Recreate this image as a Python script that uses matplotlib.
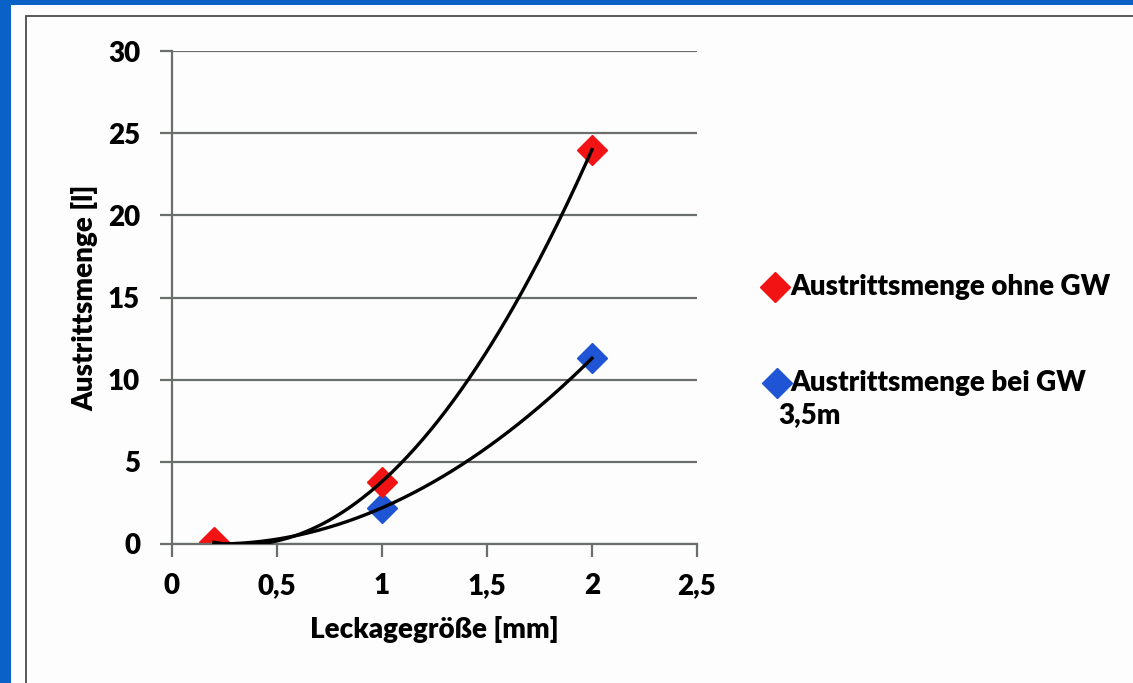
import numpy as np
import matplotlib.pyplot as plt
from matplotlib.lines import Line2D
from matplotlib.patches import Rectangle

plt.rcParams['font.family'] = ['Lato', 'DejaVu Sans']

# data
leck = [0.2, 1, 2]
ohne_gw = [0.1, 3.8, 24.0]
bei_gw = [0.0, 2.2, 11.3]
x_ticks = [0, 0.5, 1, 1.5, 2, 2.5]
x_labels = ['0', '0,5', '1', '1,5', '2', '2,5']
y_ticks = [0, 5, 10, 15, 20, 25, 30]
y_labels = ['0', '5', '10', '15', '20', '25', '30']

red = '#f21414'
blue = '#1f55d4'
grid_col = '#6b6f6b'

fig = plt.figure(figsize=(11.33, 6.83), dpi=100)
fig.patch.set_facecolor('#0a62c6')
fig.add_artist(Rectangle((11 / 1133, 0), 1, 1 - 5 / 683, transform=fig.transFigure,
                         facecolor='#fdfdfd', edgecolor='none', zorder=0))
fig.add_artist(Rectangle((26 / 1133, -0.05), 1, 1.05 - 16 / 683, transform=fig.transFigure,
                         facecolor='none', edgecolor='#4a4a4a', lw=1.3, zorder=1))

ax = fig.add_axes([172 / 1133, 139 / 683, 525 / 1133, 493 / 683])
ax.set_facecolor('none')

ax.plot(leck, bei_gw, 'D', color=blue, markersize=15, zorder=2)
ax.plot(leck, ohne_gw, 'D', color=red, markersize=15, zorder=2.5)

# trendlines (2nd order polynomial, like the spreadsheet trendline), on top of the markers
xs = np.linspace(leck[0], leck[-1], 200)
for ys in (ohne_gw, bei_gw):
    c = np.polyfit(leck, ys, 2)
    ax.plot(xs, np.polyval(c, xs), color='black', lw=2.4, zorder=3)

ax.set_xlim(0, 2.5)
ax.set_ylim(0, 30)
ax.set_xticks(x_ticks)
ax.set_xticklabels(x_labels, fontweight='heavy')
ax.set_yticks(y_ticks)
ax.set_yticklabels(y_labels, fontweight='heavy')
ax.yaxis.grid(True, color=grid_col, lw=1.6)
ax.set_axisbelow(True)
for s in ('top', 'right'):
    ax.spines[s].set_visible(False)
ax.spines['left'].set_color(grid_col)
ax.spines['bottom'].set_color(grid_col)
ax.spines['left'].set_linewidth(1.6)
ax.spines['bottom'].set_linewidth(1.6)
ax.tick_params(axis='both', colors=grid_col, width=1.6, length=9, labelsize=20,
               labelcolor='black')
ax.tick_params(axis='x', pad=12)
ax.tick_params(axis='y', pad=14)

ax.set_xlabel('Leckagegröße [mm]', fontsize=20, fontweight='heavy', labelpad=12)
ax.set_ylabel('Austrittsmenge [l]', fontsize=20, fontweight='heavy')
ax.yaxis.set_label_coords(-0.141, 0.5)

# legend drawn by hand so the marker sits on the first text line
leg_font = dict(fontsize=20, fontweight='heavy', va='center', ha='left')
fig.add_artist(Line2D([775 / 1133], [1 - 287 / 683], marker='D', color=red,
                      markersize=15, transform=fig.transFigure))
fig.text(790 / 1133, 1 - 287 / 683, 'Austrittsmenge ohne GW', **leg_font)
fig.add_artist(Line2D([777 / 1133], [1 - 383 / 683], marker='D', color=blue,
                      markersize=15, transform=fig.transFigure))
fig.text(790 / 1133, 1 - 383 / 683, 'Austrittsmenge bei GW', **leg_font)
fig.text(778 / 1133, 1 - 415 / 683, '3,5m', **leg_font)

fig.savefig('out.png', dpi=100, facecolor=fig.get_facecolor())
